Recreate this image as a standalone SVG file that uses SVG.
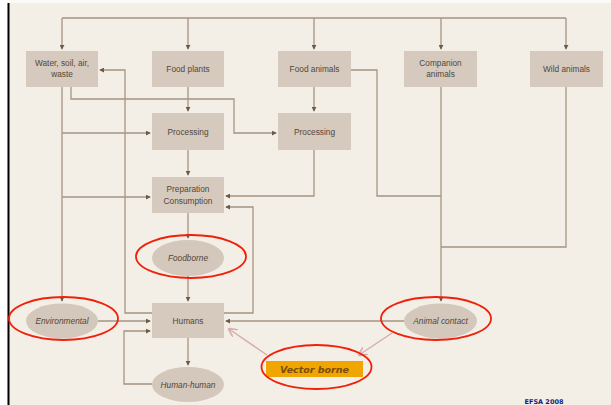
<svg xmlns="http://www.w3.org/2000/svg" width="611" height="405" viewBox="0 0 611 405">
<style>
.box{fill:#d5cabd}
.ell{fill:#d3c8bb}
.t{font-family:"Liberation Sans",Arial,sans-serif;font-size:8.3px;fill:#54463a;text-anchor:middle}
.ti{font-family:"Liberation Sans",Arial,sans-serif;font-size:8.3px;fill:#54463a;text-anchor:middle;font-style:italic}
.c{fill:none;stroke:#a59482;stroke-width:1.3}
.p{fill:none;stroke:#d7aeae;stroke-width:1.5}
.red{fill:none;stroke:#f0200a;stroke-width:1.8}
</style>
<defs>
<marker id="ah" viewBox="0 0 6 6" refX="5" refY="3" markerWidth="5" markerHeight="5" markerUnits="userSpaceOnUse" orient="auto">
<path d="M0,0 L6,3 L0,6 z" fill="#6e5a45"/>
</marker>
<marker id="ap" viewBox="0 0 8 8" refX="7" refY="4" markerWidth="9" markerHeight="9" markerUnits="userSpaceOnUse" orient="auto">
<path d="M0,0 L8,4 L0,8" fill="none" stroke="#d7aeae" stroke-width="1.5"/>
</marker>
</defs>
<rect width="611" height="405" fill="#f3efe7"/>
<rect width="611" height="3" fill="#fbfaf7"/>
<rect x="0" y="0" width="7.5" height="405" fill="#ffffff"/>
<rect x="7.5" y="3" width="2" height="402" fill="#000000"/>

<g id="connectors">
<path class="c" d="M62,18 H566"/>
<path class="c" d="M62,18 V49" marker-end="url(#ah)"/>
<path class="c" d="M188,18 V49" marker-end="url(#ah)"/>
<path class="c" d="M314,18 V49" marker-end="url(#ah)"/>
<path class="c" d="M441,18 V49" marker-end="url(#ah)"/>
<path class="c" d="M566,18 V49" marker-end="url(#ah)"/>
<path class="c" d="M62,87 V301" marker-end="url(#ah)"/>
<path class="c" d="M62,133 H150" marker-end="url(#ah)"/>
<path class="c" d="M62,197 H150" marker-end="url(#ah)"/>
<path class="c" d="M71,87 V99 H234 V133 H276" marker-end="url(#ah)"/>
<path class="c" d="M152,313 H125 V70 H100" marker-end="url(#ah)"/>
<path class="c" d="M188,87 V111" marker-end="url(#ah)"/>
<path class="c" d="M188,150 V175" marker-end="url(#ah)"/>
<path class="c" d="M314,87 V111" marker-end="url(#ah)"/>
<path class="c" d="M314,150 V196 H226" marker-end="url(#ah)"/>
<path class="c" d="M351,70 H377 V196 H441"/>
<path class="c" d="M441,87 V301" marker-end="url(#ah)"/>
<path class="c" d="M566,87 V247 H441"/>
<path class="c" d="M224,313 H253 V207 H226" marker-end="url(#ah)"/>
<path class="c" d="M188,213 V238" marker-end="url(#ah)"/>
<path class="c" d="M188,276 V301" marker-end="url(#ah)"/>
<path class="c" d="M98,321 H150" marker-end="url(#ah)"/>
<path class="c" d="M404,321 H226" marker-end="url(#ah)"/>
<path class="c" d="M188,338 V365" marker-end="url(#ah)"/>
<path class="c" d="M152,384 H124 V331 H150" marker-end="url(#ah)"/>
<path class="p" d="M392,333 L359,355" marker-end="url(#ap)"/>
<path class="p" d="M267,355 L229,329" marker-end="url(#ap)"/>
</g>

<g id="water"><rect class="box" x="26" y="51" width="72" height="36"/><text class="t" x="62" y="66">Water, soil, air,</text><text class="t" x="62" y="77">waste</text></g>
<g id="food-plants"><rect class="box" x="152" y="51" width="72" height="36"/><text class="t" x="188" y="72">Food plants</text></g>
<g id="food-animals"><rect class="box" x="278" y="51" width="73" height="36"/><text class="t" x="314.5" y="72">Food animals</text></g>
<g id="companion"><rect class="box" x="404" y="51" width="73" height="36"/><text class="t" x="440.5" y="66">Companion</text><text class="t" x="440.5" y="77">animals</text></g>
<g id="wild"><rect class="box" x="530" y="51" width="73" height="36"/><text class="t" x="566.5" y="72">Wild animals</text></g>
<g id="processing1"><rect class="box" x="152" y="113" width="72" height="37"/><text class="t" x="188" y="135">Processing</text></g>
<g id="processing2"><rect class="box" x="278" y="113" width="73" height="37"/><text class="t" x="314.5" y="135">Processing</text></g>
<g id="preparation"><rect class="box" x="152" y="177" width="72" height="36"/><text class="t" x="188" y="192">Preparation</text><text class="t" x="188" y="204">Consumption</text></g>
<g id="foodborne"><ellipse class="ell" cx="188" cy="258" rx="36" ry="18"/><text class="ti" x="188" y="261">Foodborne</text><ellipse class="red" cx="191" cy="256.5" rx="55" ry="21.5"/></g>
<g id="humans"><rect class="box" x="152" y="303" width="72" height="35"/><text class="t" x="188" y="324">Humans</text></g>
<g id="environmental"><ellipse class="ell" cx="62" cy="321" rx="36" ry="17.5"/><text class="ti" x="62" y="324">Environmental</text><ellipse class="red" cx="63.5" cy="318.5" rx="54.5" ry="21.5"/></g>
<g id="animal-contact"><ellipse class="ell" cx="440.5" cy="321" rx="36.5" ry="17.5"/><text class="ti" x="440.5" y="324">Animal contact</text><ellipse class="red" cx="436" cy="318.5" rx="55" ry="21.5"/></g>
<g id="human-human"><ellipse class="ell" cx="188" cy="384.5" rx="36" ry="17.5"/><text class="ti" x="188" y="387.5">Human-human</text></g>
<g id="vector-borne"><rect x="266" y="361" width="97" height="16" fill="#f0a500"/><text x="314.5" y="372.5" font-family="'DejaVu Sans',Verdana,sans-serif" font-size="9.5" font-weight="bold" font-style="italic" fill="#7a4c0c" text-anchor="middle">Vector borne</text><ellipse class="red" cx="316.5" cy="367" rx="55" ry="22"/></g>
<text x="544" y="403.5" font-family="'DejaVu Sans',Verdana,sans-serif" font-size="6.5" font-weight="bold" fill="#1a1a80" text-anchor="middle">EFSA 2008</text>
</svg>
